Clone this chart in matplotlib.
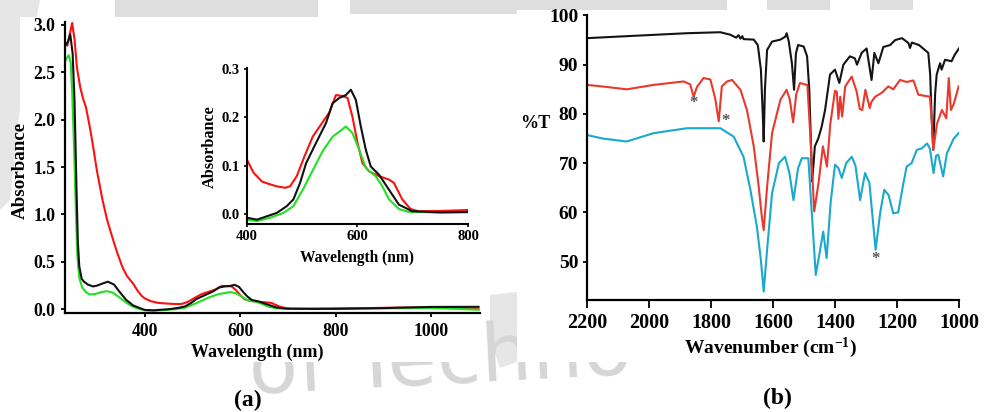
import matplotlib
matplotlib.use("Agg")
import matplotlib.pyplot as plt
from matplotlib.patches import Rectangle, Polygon

# ---------------- data: panel (a) UV-vis ----------------
wl_black = [232, 238, 243, 248, 252, 256, 259, 262, 267, 272, 280, 291, 300, 310, 322, 335, 347,
            360, 375, 390, 400, 418, 436, 454, 472, 484, 496, 507, 525, 543, 555, 567, 579, 588,
            597, 606, 615, 624, 639, 657, 675, 699, 750, 800, 900, 1000, 1100]
abs_black = [2.78, 2.82, 2.90, 2.70, 2.20, 1.30, 0.70, 0.45, 0.32, 0.29, 0.26, 0.24, 0.25, 0.27,
             0.29, 0.26, 0.18, 0.10, 0.04, 0.01, -0.008, -0.012, -0.005, 0.002, 0.016, 0.03, 0.064,
             0.105, 0.147, 0.188, 0.229, 0.24, 0.246, 0.257, 0.236, 0.181, 0.133, 0.098, 0.081,
             0.05, 0.019, 0.0055, 0.003, 0.004, 0.012, 0.024, 0.025]

wl_red = [232, 237, 242, 247, 252, 257, 264, 270, 276, 283, 289, 299, 310, 320, 330, 340, 352,
          362, 375, 385, 393, 400, 412, 427, 442, 454, 469, 478, 490, 504, 519, 537, 549, 561,
          573, 582, 591, 600, 609, 621, 639, 657, 666, 681, 696, 710, 750, 800, 900, 1000,
          1050, 1100]
abs_red = [2.81, 2.78, 2.90, 3.02, 2.85, 2.55, 2.34, 2.22, 2.13, 1.95, 1.78, 1.46, 1.17, 0.95,
           0.78, 0.62, 0.45, 0.35, 0.27, 0.19, 0.14, 0.112, 0.085, 0.067, 0.061, 0.057, 0.054,
           0.057, 0.078, 0.119, 0.16, 0.19, 0.21, 0.246, 0.244, 0.24, 0.20, 0.147, 0.105, 0.088,
           0.078, 0.071, 0.064, 0.03, 0.01, 0.0055, 0.006, 0.008, 0.014, 0.02, 0.012, 0.0]

wl_green = [232, 236, 240, 244, 247, 251, 255, 258, 262, 268, 276, 284, 295, 308, 320, 332, 345,
            360, 375, 390, 400, 418, 442, 466, 484, 501, 519, 537, 555, 567, 579, 591, 603, 615,
            633, 645, 657, 675, 693, 750, 800, 900, 1000, 1100]
abs_green = [2.62, 2.65, 2.68, 2.60, 2.30, 1.70, 1.00, 0.55, 0.33, 0.23, 0.18, 0.155, 0.16, 0.18,
             0.19, 0.175, 0.13, 0.07, 0.025, 0.0, -0.012, -0.015, -0.008, 0.002, 0.016, 0.05,
             0.09, 0.13, 0.16, 0.17, 0.181, 0.167, 0.133, 0.095, 0.078, 0.057, 0.03, 0.01, 0.004,
             0.003, 0.003, 0.008, 0.012, -0.005]

uv_xticks = [400, 600, 800, 1000]
uv_yticks = [0.0, 0.5, 1.0, 1.5, 2.0, 2.5, 3.0]
inset_xticks = [400, 600, 800]
inset_yticks = [0.0, 0.1, 0.2, 0.3]

# ---------------- data: panel (b) FTIR ----------------
nu_black = [2200, 2040, 1878, 1771, 1739, 1720, 1712, 1706, 1700, 1696, 1663, 1650, 1640, 1634,
            1631, 1627, 1620, 1604, 1577, 1561, 1557, 1550, 1540, 1533, 1527, 1520, 1502, 1491,
            1484, 1479, 1475, 1470, 1466, 1455, 1444, 1433, 1417, 1401, 1387, 1374, 1353, 1337,
            1330, 1315, 1299, 1283, 1274, 1261, 1245, 1223, 1207, 1185, 1164, 1159, 1153, 1130,
            1100, 1094, 1089, 1084, 1078, 1073, 1062, 1057, 1046, 1025, 1015, 1000]
T_black = [95.4, 95.9, 96.4, 96.6, 96.1, 95.5, 96.0, 95.3, 95.8, 95.2, 95.1, 94.0, 89.0, 80.0,
           74.4, 85.0, 93.0, 94.7, 95.1, 95.7, 96.4, 94.7, 90.3, 84.9, 92.3, 94.0, 93.7, 91.7,
           85.0, 75.0, 66.3, 70.0, 73.4, 75.0, 77.4, 80.8, 88.0, 89.0, 86.3, 90.0, 91.7, 91.3,
           90.0, 92.4, 93.3, 86.9, 92.4, 90.3, 93.6, 94.0, 95.0, 95.4, 94.4, 93.4, 94.5, 94.0,
           92.4, 88.0, 78.8, 72.7, 84.0, 88.0, 90.3, 89.0, 91.0, 90.7, 92.0, 93.4]

nu_red = [2200, 2140, 2073, 1986, 1889, 1868, 1857, 1846, 1825, 1803, 1787, 1776, 1766, 1749,
          1733, 1706, 1685, 1663, 1647, 1637, 1631, 1620, 1604, 1577, 1557, 1547, 1536, 1526,
          1514, 1498, 1490, 1481, 1468, 1454, 1440, 1432, 1427, 1416, 1401, 1395, 1390, 1384,
          1378, 1368, 1347, 1331, 1321, 1313, 1303, 1289, 1283, 1271, 1250, 1229, 1213, 1191,
          1170, 1148, 1132, 1095, 1088, 1084, 1072, 1056, 1042, 1034, 1027, 1018, 1002]
T_red = [85.9, 85.5, 85.0, 85.9, 86.6, 86.0, 83.5, 85.5, 87.3, 87.0, 83.0, 78.5, 85.6, 86.6,
         86.9, 84.9, 80.8, 73.4, 65.2, 59.1, 56.4, 65.2, 76.1, 82.9, 84.9, 83.0, 78.3, 84.0,
         86.3, 86.0, 85.9, 76.0, 60.2, 66.0, 73.4, 71.0, 69.3, 78.0, 84.7, 84.5, 79.0, 83.5,
         79.5, 85.6, 87.6, 84.5, 81.0, 80.8, 84.9, 81.2, 82.5, 83.5, 84.3, 85.6, 85.0, 86.9,
         86.5, 86.8, 83.9, 83.5, 78.0, 72.7, 78.0, 80.8, 79.1, 87.3, 80.8, 82.0, 85.6]

nu_cyan = [2200, 2150, 2073, 1986, 1878, 1771, 1728, 1696, 1674, 1653, 1640, 1631, 1620, 1604,
           1582, 1562, 1548, 1535, 1520, 1508, 1487, 1478, 1463, 1450, 1439, 1428, 1415, 1401,
           1390, 1379, 1365, 1347, 1335, 1320, 1304, 1290, 1270, 1255, 1242, 1228, 1213, 1197,
           1183, 1170, 1154, 1137, 1121, 1104, 1095, 1083, 1075, 1068, 1052, 1040, 1018, 1002]
T_cyan = [75.7, 75.0, 74.4, 76.1, 77.1, 77.1, 75.4, 71.3, 64.6, 57.1, 50.3, 43.9, 52.4, 63.9,
          70.0, 71.3, 68.0, 62.5, 69.0, 71.0, 71.0, 62.0, 47.3, 52.0, 56.1, 50.7, 62.0, 69.7,
          69.0, 67.0, 70.0, 71.3, 69.5, 62.5, 68.0, 66.0, 52.4, 60.0, 64.6, 63.5, 59.8, 60.0,
          65.0, 69.3, 70.0, 72.7, 73.0, 74.0, 73.0, 68.0, 71.5, 71.7, 67.3, 72.0, 75.0, 76.1]

star_nu = [1858, 1753, 1270]
star_T = [82.2, 78.5, 50.5]

ir_xticks = [2200, 2000, 1800, 1600, 1400, 1200, 1000]
ir_yticks = [50, 60, 70, 80, 90, 100]

# ---------------- styling ----------------
plt.rcParams['font.family'] = ['Liberation Serif', 'DejaVu Serif']
plt.rcParams['font.weight'] = 'bold'
plt.rcParams['mathtext.fontset'] = 'custom'
plt.rcParams['mathtext.rm'] = 'Liberation Serif:bold'
plt.rcParams['mathtext.default'] = 'rm'

W, H = 987, 412
fig = plt.figure(figsize=(W / 100, H / 100), dpi=100)
fig.patch.set_facecolor('white')


def fx(px):
    return px / W


def fy(py):
    return 1 - py / H


def box(l, t, r, b):
    return [fx(l), fy(b), (r - l) / W, (b - t) / H]


# ---------------- faint watermark background ----------------
wm = '#dedede'
for (l, t, r, b) in [(115, 0, 318, 18), (350, 0, 727, 14), (767, 0, 830, 12), (870, 0, 913, 10)]:
    fig.patches.append(Rectangle((fx(l), fy(b)), (r - l) / W, (b - t) / H,
                                 transform=fig.transFigure, color=wm, zorder=-6, lw=0))
fig.patches.append(Polygon([(fx(0), fy(0)), (fx(40), fy(0)), (fx(22), fy(90)), (fx(10), fy(200)),
                            (fx(0), fy(210))], closed=True, transform=fig.transFigure,
                           color='#e6e6e6', zorder=-6, lw=0))
fig.patches.append(Polygon([(fx(490), fy(295)), (fx(517), fy(292)), (fx(517), fy(362)),
                            (fx(500), fy(368)), (fx(490), fy(340))], closed=True,
                           transform=fig.transFigure, color='#e6e6e6', zorder=-6, lw=0))
fig.text(fx(440), fy(411), 'of Techno', fontsize=58, color='#d6d6d6', family='DejaVu Sans',
         weight='normal', ha='center', va='bottom', rotation=3, zorder=-5)
# white image areas of the two panels
for (l, t, r, b) in [(20, 17, 480, 362), (517, 10, 987, 362)]:
    fig.patches.append(Rectangle((fx(l), fy(b)), (r - l) / W, (b - t) / H,
                                 transform=fig.transFigure, color='white', zorder=-4, lw=0))

# ---------------- panel (a) ----------------
ax = fig.add_axes(box(65, 22, 480, 313))
ax.patch.set_alpha(0)
lw = 1.5
ax.plot(wl_red, abs_red, color='#ff1010', lw=lw)
ax.plot(wl_green, abs_green, color='#22e022', lw=lw)
ax.plot(wl_black, abs_black, color='#111111', lw=lw)
ax.set_xlim(232, 1103)
ax.set_ylim(-0.04, 3.03)
ax.set_xticks(uv_xticks)
ax.set_yticks(uv_yticks)
ax.set_yticklabels([f'{v:.1f}' for v in uv_yticks])
for s in ['top', 'right']:
    ax.spines[s].set_visible(False)
for s in ['left', 'bottom']:
    ax.spines[s].set_linewidth(1.6)
ax.tick_params(axis='both', direction='out', length=3, width=1.3, labelsize=12.7)
ax.tick_params(axis='y', pad=4)
ax.tick_params(axis='x', pad=4.5)
fig.text(fx(257), fy(352), 'Wavelength (nm)', fontsize=13, ha='center', va='center')
fig.text(fx(20), fy(170), 'Absorbance', fontsize=13.7, ha='center', va='center', rotation=90)
fig.text(fx(248), fy(400), '(a)', fontsize=17, ha='center', va='center')

# inset
axi = fig.add_axes(box(247, 68, 468, 224))
axi.patch.set_alpha(0)
axi.plot(wl_red, abs_red, color='#ff1010', lw=lw)
axi.plot(wl_green, abs_green, color='#22e022', lw=lw)
axi.plot(wl_black, abs_black, color='#111111', lw=lw)
axi.set_xlim(400, 800)
axi.set_ylim(-0.021, 0.302)
axi.set_xticks(inset_xticks)
axi.set_yticks(inset_yticks)
axi.set_yticklabels([f'{v:.1f}' for v in inset_yticks])
for s in ['top', 'right']:
    axi.spines[s].set_visible(False)
for s in ['left', 'bottom']:
    axi.spines[s].set_linewidth(1.5)
axi.tick_params(axis='both', direction='out', length=2.5, width=1.2, labelsize=10.5)
axi.tick_params(axis='y', pad=2.5)
axi.tick_params(axis='x', pad=1.5)
fig.text(fx(357), fy(258), 'Wavelength (nm)', fontsize=11.2, ha='center', va='center')
fig.text(fx(210), fy(147), 'Absorbance', fontsize=11.7, ha='center', va='center', rotation=90)

# ---------------- panel (b) ----------------
bx = fig.add_axes(box(587.3, 15, 959.3, 300))
bx.patch.set_alpha(0)
bx.plot(nu_black, T_black, color='#141414', lw=lw)
bx.plot(nu_red, T_red, color='#e8392e', lw=lw)
bx.plot(nu_cyan, T_cyan, color='#1aa8cb', lw=lw)
for n, t in zip(star_nu, star_T):
    bx.text(n, t, '*', fontsize=12, color='#555555', ha='center', va='center')
bx.set_xlim(2200, 1000)
bx.set_ylim(42.2, 100.1)
bx.set_xticks(ir_xticks)
bx.set_yticks(ir_yticks)
for s in ['top', 'right']:
    bx.spines[s].set_visible(False)
for s in ['left', 'bottom']:
    bx.spines[s].set_linewidth(1.6)
bx.tick_params(axis='y', direction='out', length=3, width=1.3, labelsize=14, pad=3.5)
bx.tick_params(axis='x', direction='out', length=5.5, width=1.3, labelsize=14.5, pad=3.9)
fig.text(fx(770), fy(348), 'Wavenumber (cm$^{-1}$)', fontsize=14, ha='center', va='center')
fig.text(fx(535), fy(123), '%T', fontsize=13, ha='center', va='center')
fig.text(fx(777), fy(398), '(b)', fontsize=17, ha='center', va='center')

fig.savefig('out.png', dpi=100)
